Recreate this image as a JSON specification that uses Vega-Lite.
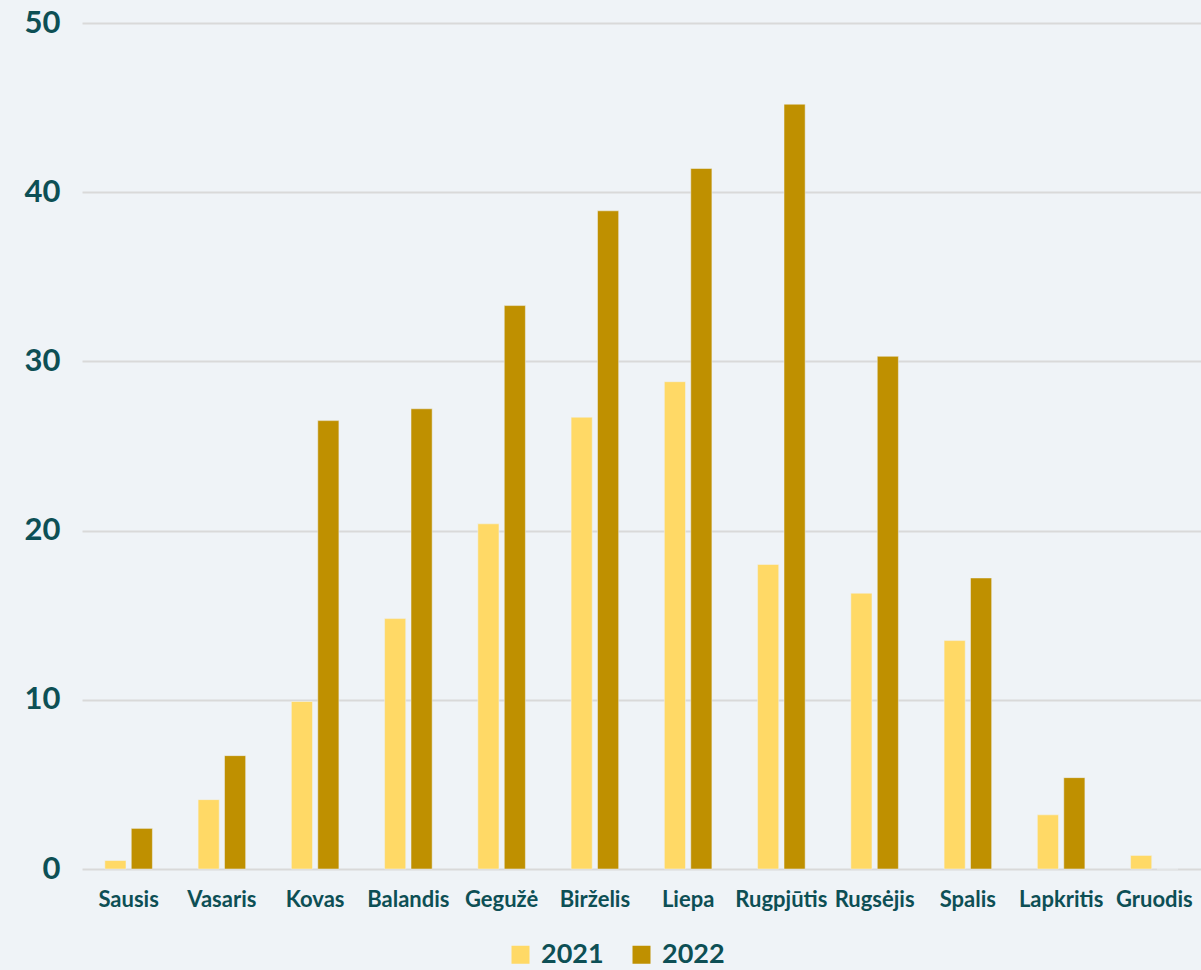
{
  "$schema": "https://vega.github.io/schema/vega-lite/v6.json",
  "autosize": {"type": "none"},
  "width": 1119,
  "height": 846,
  "padding": {"left": 82, "top": 23, "right": 0, "bottom": 101},
  "background": "#EFF3F7",
  "config": {
    "view": {"stroke": null},
    "font": "Lato",
    "axis": {"labelFont": "Lato", "labelFontWeight": "bold", "labelColor": "#0D4F55"},
    "legend": {"labelFont": "Lato", "labelFontWeight": "bold", "labelColor": "#0D4F55"}
  },
  "data": {
    "values": [
      {"month": "Sausis", "year": "2021", "value": 0.5},
      {"month": "Sausis", "year": "2022", "value": 2.4},
      {"month": "Vasaris", "year": "2021", "value": 4.1},
      {"month": "Vasaris", "year": "2022", "value": 6.7},
      {"month": "Kovas", "year": "2021", "value": 9.9},
      {"month": "Kovas", "year": "2022", "value": 26.5},
      {"month": "Balandis", "year": "2021", "value": 14.8},
      {"month": "Balandis", "year": "2022", "value": 27.2},
      {"month": "Gegužė", "year": "2021", "value": 20.4},
      {"month": "Gegužė", "year": "2022", "value": 33.3},
      {"month": "Birželis", "year": "2021", "value": 26.7},
      {"month": "Birželis", "year": "2022", "value": 38.9},
      {"month": "Liepa", "year": "2021", "value": 28.8},
      {"month": "Liepa", "year": "2022", "value": 41.4},
      {"month": "Rugpjūtis", "year": "2021", "value": 18.0},
      {"month": "Rugpjūtis", "year": "2022", "value": 45.2},
      {"month": "Rugsėjis", "year": "2021", "value": 16.3},
      {"month": "Rugsėjis", "year": "2022", "value": 30.3},
      {"month": "Spalis", "year": "2021", "value": 13.5},
      {"month": "Spalis", "year": "2022", "value": 17.2},
      {"month": "Lapkritis", "year": "2021", "value": 3.2},
      {"month": "Lapkritis", "year": "2022", "value": 5.4},
      {"month": "Gruodis", "year": "2021", "value": 0.8},
      {"month": "Gruodis", "year": "2022", "value": 0}
    ]
  },
  "mark": {"type": "bar", "stroke": "#EFF3F7", "strokeWidth": 0.5},
  "encoding": {
    "x": {
      "field": "month",
      "type": "nominal",
      "sort": null,
      "scale": {"paddingInner": 0.49, "paddingOuter": 0.245},
      "axis": {"title": null, "labelAngle": 0, "labelFontSize": 22, "labelPadding": 20, "ticks": false, "domain": false, "grid": false}
    },
    "xOffset": {"field": "year", "type": "nominal", "scale": {"paddingInner": 0.2}},
    "y": {
      "field": "value",
      "type": "quantitative",
      "scale": {"domain": [0, 50]},
      "axis": {"title": null, "values": [0, 10, 20, 30, 40, 50], "labelFontSize": 31, "labelPadding": 22, "ticks": false, "domain": false, "gridColor": "#D9D9D9", "gridWidth": 2}
    },
    "color": {
      "field": "year",
      "type": "nominal",
      "scale": {"domain": ["2021", "2022"], "range": ["#FFD966", "#BF9000"]},
      "legend": {"title": null, "orient": "none", "legendX": 425, "legendY": 918, "direction": "horizontal", "symbolType": "square", "symbolSize": 324, "symbolStrokeWidth": 0, "labelFontSize": 27, "labelOffset": 7, "columnPadding": 24}
    }
  }
}
